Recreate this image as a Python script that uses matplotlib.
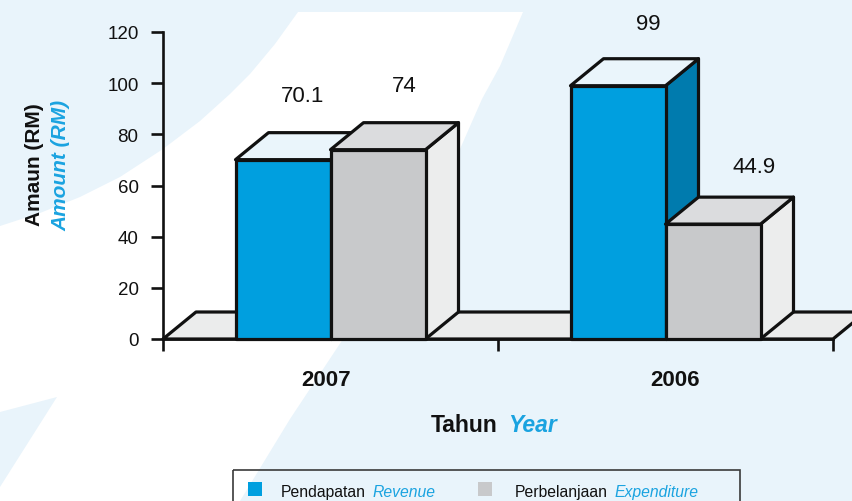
import matplotlib
matplotlib.use("Agg")
import matplotlib.pyplot as plt
from matplotlib.patches import Polygon, Rectangle
import numpy as np

# ---------------- data ----------------
years = ["2007", "2006"]
revenue = [70.1, 99]
expenditure = [74, 44.9]
names_ms = ["Pendapatan", "Perbelanjaan"]
names_en = ["Revenue", "Expenditure"]
yticks = [0, 20, 40, 60, 80, 100, 120]

# ---------------- style ----------------
W, H = 852, 502
plt.rcParams['font.family'] = ['Liberation Sans', 'DejaVu Sans']
BG_BLUE = '#E9F4FB'
TXT_BLUE = '#1AA3E0'
front_c = ['#009FDF', '#C8C9CB']
top_c = ['#EAF5FB', '#DBDCDE']
side_c = ['#007BAE', '#ECEDED']
FLOOR_C = '#EBECEC'
LW = 2.3
EDGE = '#111111'
JOIN = 'round'

fig = plt.figure(figsize=(W / 100, H / 100), dpi=100)

# background with white swoosh (decoration, pixel space, y downwards)
bg = fig.add_axes([0, 0, 1, 1])
bg.set_xlim(0, W)
bg.set_ylim(H, 0)
bg.axis('off')
bg.add_patch(Rectangle((0, 0), W, H, facecolor=BG_BLUE, edgecolor='none'))
swoosh = [(0, 227), (40, 214), (80, 198), (120, 178), (163, 150), (200, 122),
          (230, 95), (250, 75), (275, 45), (298, 13), (523, 13), (500, 67),
          (482, 100), (460, 150), (430, 200), (398, 250), (370, 297),
          (343, 340), (290, 420), (240, 502), (0, 502), (0, 488), (57, 398),
          (0, 413)]
bg.add_patch(Polygon(swoosh, closed=True, facecolor='white', edgecolor='none'))

# main axes
ax = fig.add_axes([163 / W, (H - 340) / H, 670 / W, 307 / H])
ax.set_xlim(-0.5, 1.5)
ax.set_ylim(0, 120)
ax.patch.set_alpha(0)

px_x = 670 / 2.0
px_y = 307 / 120.0
ddx = 33 / px_x
ddy = 27 / px_y
w = 95 / px_x

# floor
x_lo, x_hi = ax.get_xlim()
floor = Polygon([(x_lo, 0), (x_hi, 0), (x_hi + ddx, ddy), (x_lo + ddx, ddy)],
                closed=True, facecolor=FLOOR_C, edgecolor=EDGE, lw=LW,
                clip_on=False, zorder=1, joinstyle=JOIN)
ax.add_patch(floor)

series = [revenue, expenditure]
label_nudge_px = [[(-13.5, 37), (-3, 35)], [(-7, 37), (8.5, 31)]]

z = 2
for i in range(len(years)):
    for s, vals in enumerate(series):
        h = vals[i]
        x0 = i - w + s * w
        x1 = x0 + w
        side = Polygon([(x1, 0), (x1 + ddx, ddy), (x1 + ddx, h + ddy), (x1, h)],
                       closed=True, facecolor=side_c[s], edgecolor=EDGE,
                       lw=LW, clip_on=False, zorder=z, joinstyle=JOIN)
        top = Polygon([(x0, h), (x1, h), (x1 + ddx, h + ddy), (x0 + ddx, h + ddy)],
                      closed=True, facecolor=top_c[s], edgecolor=EDGE,
                      lw=LW, clip_on=False, zorder=z, joinstyle=JOIN)
        front = Rectangle((x0, 0), w, h, facecolor=front_c[s],
                          edgecolor=EDGE, lw=LW, clip_on=False, zorder=z + 0.5,
                          joinstyle=JOIN)
        ax.add_patch(side)
        ax.add_patch(top)
        ax.add_patch(front)
        z += 1
        nx, ny = label_nudge_px[s][i]
        ax.annotate(f"{h:g}", xy=((x0 + x1) / 2 + ddx, h + ddy),
                    xytext=(nx * 0.72, ny * 0.72), textcoords='offset points',
                    ha='center', va='center', fontsize=16, color='#111111',
                    zorder=20, annotation_clip=False)

# axes styling
for sp in ['top', 'right']:
    ax.spines[sp].set_visible(False)
for sp in ['left', 'bottom']:
    ax.spines[sp].set_linewidth(1.9)
    ax.spines[sp].set_color(EDGE)
ax.spines['bottom'].set_zorder(30)
ax.set_yticks(yticks)
ax.set_yticklabels([str(t) for t in yticks])
ax.tick_params(axis='y', direction='out', length=8.6, width=1.9, pad=9,
               labelsize=13.5, colors='#111111')
ax.set_xticks([-0.5, 0.5, 1.5])
ax.set_xticklabels([])
ax.tick_params(axis='x', direction='out', length=8.6, width=1.9, colors='#111111')

year_nudge_px = [-4, 9.5]
for i, yr in enumerate(years):
    ax.annotate(yr, xy=(i, 0), xytext=(year_nudge_px[i] * 0.72, -40 * 0.72),
                textcoords='offset points', ha='center', va='center',
                fontsize=16, fontweight='bold', color='#111111',
                annotation_clip=False)

# axis titles
fig.text(497 / W, 1 - 425 / H, "Tahun", ha='right', va='center',
         fontsize=16.5, fontweight='bold', color='#111111')
fig.text(508 / W, 1 - 425 / H, "Year", ha='left', va='center',
         fontsize=16.5, fontweight='bold', fontstyle='italic', color=TXT_BLUE)
fig.text(34.5 / W, 1 - 165 / H, "Amaun (RM)", rotation=90, ha='center',
         va='center', fontsize=15, fontweight='bold', color='#111111')
fig.text(61 / W, 1 - 165 / H, "Amount (RM)", rotation=90, ha='center',
         va='center', fontsize=15, fontweight='bold', fontstyle='italic',
         color=TXT_BLUE)

# legend (manual, because of two-colour labels)
bg.add_patch(Rectangle((233, 471), 507, 60, facecolor='none',
                       edgecolor='#3a3a3a', lw=1.2, clip_on=False))
sq_x = [248, 478]
ms_x = [281, 515]
en_x = [373, 615]
for s in range(2):
    bg.add_patch(Rectangle((sq_x[s], 482.5), 14, 14, facecolor=front_c[s],
                           edgecolor='none'))
    bg.text(ms_x[s], 497.3, names_ms[s], ha='left', va='baseline',
            fontsize=11.3, color='#111111')
    bg.text(en_x[s], 497.3, names_en[s], ha='left', va='baseline',
            fontsize=11.3, fontstyle='italic', color=TXT_BLUE)

fig.savefig("out.png", dpi=100)
